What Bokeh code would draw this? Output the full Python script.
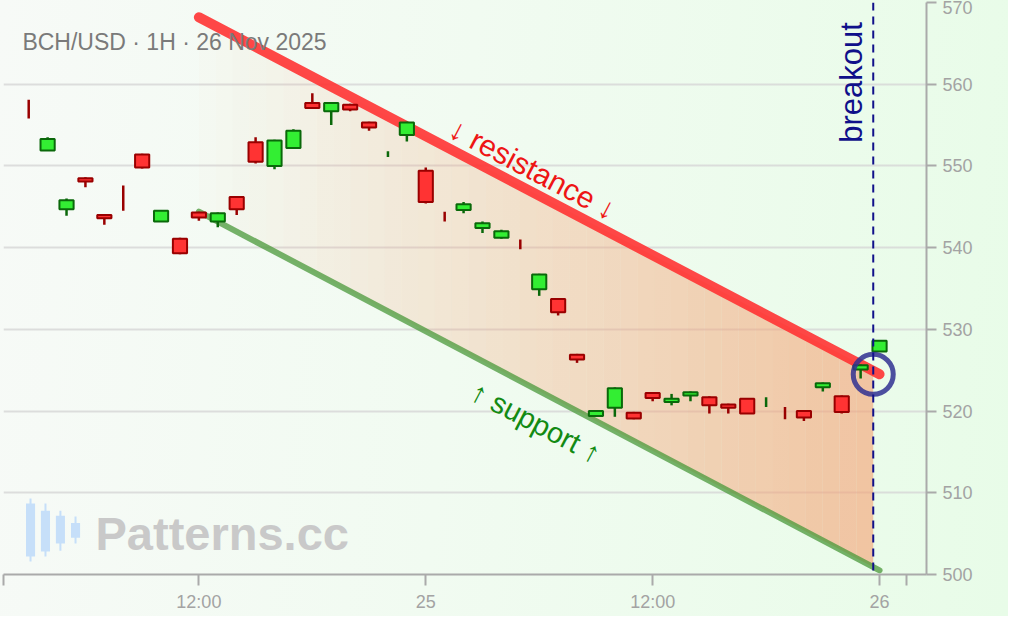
import numpy as np
import pandas as pd
from bokeh.plotting import figure
from bokeh.models import (ColumnDataSource, Range1d, FixedTicker,
                          CustomJSTickFormatter, Span)
from bokeh.core.properties import value
from bokeh.embed import file_html
from bokeh.resources import INLINE

# hourly candles BCH/USD, 24 Nov 03:00 -> 26 Nov 00:00
first_candle = "2025-11-24 03:00"
opens = [557.0, 551.9, 544.7, 548.5, 544.0, 546.1, 551.4, 543.2, 541.1, 544.3,
         543.2, 546.2, 552.9, 550.0, 552.2, 557.7, 556.7, 557.5, 555.3, 551.4,
         553.8, 549.4, 543.9, 544.6, 542.4, 541.2, 540.5, 534.9, 533.7, 526.9,
         519.4, 520.4, 519.8, 522.2, 521.1, 521.9, 521.7, 520.8, 521.5, 521.0,
         519.8, 520.0, 522.9, 521.8, 525.1, 527.3]
highs = [558.1, 553.5, 546.0, 548.6, 544.1, 547.6, 551.5, 544.6, 541.2, 544.4,
         544.3, 546.2, 553.5, 553.2, 554.5, 558.9, 557.8, 557.6, 555.4, 551.8,
         555.4, 549.8, 544.4, 545.6, 543.2, 542.2, 541.0, 536.8, 533.8, 527.0,
         520.1, 522.9, 519.9, 522.3, 522.1, 522.4, 521.8, 520.9, 521.6, 521.7,
         520.5, 520.1, 523.5, 521.9, 525.7, 528.7]
lows = [555.8, 551.9, 543.9, 547.4, 542.8, 544.5, 549.7, 543.2, 539.2, 543.3,
        542.5, 544.0, 550.3, 549.6, 552.2, 557.0, 555.0, 556.7, 554.3, 551.1,
        553.0, 545.4, 543.2, 544.2, 541.8, 541.1, 539.8, 534.1, 531.7, 525.9,
        519.3, 519.3, 519.0, 521.2, 520.7, 521.2, 519.7, 519.7, 519.7, 520.5,
        519.0, 518.8, 522.4, 519.7, 524.0, 527.3]
closes = [556.9, 553.3, 545.8, 548.1, 543.6, 546.0, 549.8, 544.5, 539.3, 543.7,
          544.2, 544.7, 550.5, 553.1, 554.3, 557.1, 557.7, 556.9, 554.7, 551.5,
          555.3, 545.6, 543.8, 545.3, 543.0, 542.0, 540.4, 536.7, 532.1, 526.3,
          520.0, 522.8, 519.1, 521.6, 521.5, 522.3, 520.7, 520.4, 519.7, 521.1,
          519.7, 519.2, 523.4, 519.9, 525.6, 528.6]

# descending channel
line_times = ["2025-11-24 12:00", "2025-11-26 00:00"]
resistance = [568.2, 524.5]
support = [544.4, 500.5]
breakout_time = "2025-11-25 23:40"
breakout_price = 524.5

y_ticks = [500, 510, 520, 530, 540, 550, 560, 570]
x_ticks = ["2025-11-24 12:00", "2025-11-25 00:00", "2025-11-25 12:00", "2025-11-26 00:00"]
x_start, x_end = "2025-11-24 01:40", "2025-11-26 02:29"
x_axis_end = "2025-11-26 01:25"

title = "BCH/USD · 1H · 26 Nov 2025"
FONT = "Liberation Sans"
HOUR = 3600 * 1000


def ms(t):
    return pd.Timestamp(t).value / 1e6


times = pd.date_range(first_candle, periods=len(opens), freq="h")
df = pd.DataFrame(dict(time=times, open=opens, high=highs, low=lows, close=closes))
up = df.close > df.open
df["top"] = df[["open", "close"]].max(axis=1)
df["bottom"] = df[["open", "close"]].min(axis=1)
df["edge"] = np.where(up, "#0a680a", "#990000")
df["fill"] = np.where(up, "#33ee33", "#ff3333")
src = ColumnDataSource(df)
bodies = ColumnDataSource(df[(df.close - df.open).abs() > 0.15])

p = figure(width=1008, height=616, x_axis_type="datetime",
           x_range=Range1d(pd.Timestamp(x_start), pd.Timestamp(x_end)),
           y_range=Range1d(500, 570), y_axis_location="right",
           output_backend="svg", toolbar_location=None,
           min_border_left=3, min_border_top=2, min_border_right=82,
           min_border_bottom=42, outline_line_color=None)
p.background_fill_alpha = 0
p.border_fill_alpha = 0
p.styles = {"background": "linear-gradient(95deg, #f7faf7 0%, #f1fbf1 45%, #e8fce8 100%)"}

# axes
for ax in (p.xaxis, p.yaxis):
    ax.axis_line_color = "#aaaaaa"
    ax.axis_line_width = 2
    ax.major_tick_line_color = "#aaaaaa"
    ax.major_tick_line_width = 2
    ax.major_tick_in = 0
    ax.minor_tick_line_color = None
    ax.major_label_text_color = "#a3a3a3"
    ax.major_label_text_font = FONT
    ax.major_label_text_font_size = "18px"
p.xaxis.major_tick_out = 11
p.xaxis.major_label_standoff = 6
p.yaxis.major_tick_out = 10
p.yaxis.major_label_standoff = 6
p.xaxis.ticker = FixedTicker(ticks=[ms(t) for t in x_ticks] + [ms(x_start), ms(x_axis_end)])
p.xaxis.formatter = CustomJSTickFormatter(code="""
const d = new Date(tick);
if (d.getUTCMinutes() !== 0) { return ""; }
const h = d.getUTCHours();
if (h === 0) { return String(d.getUTCDate()); }
return (h < 10 ? "0" : "") + h + ":00";
""")
p.yaxis.ticker = FixedTicker(ticks=y_ticks)
p.xgrid.visible = False
p.ygrid.ticker = FixedTicker(ticks=y_ticks)
p.ygrid.grid_line_color = "#d6d6d6"
p.ygrid.grid_line_width = 2
p.ygrid.grid_line_alpha = 0.8

# channel shading, fading in towards the breakout
n = 40
lt = [ms(t) for t in line_times]
edges = np.linspace(lt[0], ms(breakout_time), n + 1)
top = np.interp(edges, lt, resistance)
bot = np.interp(edges, lt, support)
xs = [[edges[i], edges[i + 1], edges[i + 1], edges[i]] for i in range(n)]
ys = [[top[i], top[i + 1], bot[i + 1], bot[i]] for i in range(n)]
p.patches(xs, ys, fill_color="#f5a072", fill_alpha=np.linspace(0.02, 0.6, n),
          line_color=None)

p.line(pd.to_datetime(line_times), support, line_color="#4a983a", line_alpha=0.75,
       line_width=6, line_cap="round")
p.line(pd.to_datetime(line_times), resistance, line_color="#ff3333", line_alpha=0.9,
       line_width=10, line_cap="round")

p.add_layout(Span(location=ms(breakout_time), dimension="height", line_color="#10108a",
                  line_width=2, line_dash="8 6"))

# candles
p.segment("time", "high", "time", "low", source=src, line_color="edge", line_width=2.5)
p.vbar(x="time", width=0.75 * HOUR, top="top", bottom="bottom", source=bodies,
       fill_color="fill", line_color="edge", line_width=2)

p.scatter([pd.Timestamp(breakout_time)], [breakout_price], marker="circle", size=40,
          fill_color=None, line_color="#303092", line_alpha=0.85, line_width=5)

# labels
p.text([pd.Timestamp("2025-11-25 05:40")], [549.6], text=["↓ resistance ↓"],
       angle=-27.7, angle_units="deg", text_align="center", text_baseline="middle",
       text_color="#ee1515", text_font=value(FONT), text_font_size="30px")
p.text([pd.Timestamp("2025-11-25 05:50")], [518.6], text=["↑ support ↑"],
       angle=-27.7, angle_units="deg", text_align="center", text_baseline="middle",
       text_color="#138a13", text_font=value(FONT), text_font_size="29px")
p.text([pd.Timestamp("2025-11-25 22:30")], [567.6], text=["breakout"], angle=90,
       angle_units="deg", text_align="right", text_baseline="alphabetic",
       text_color="#10108a", text_font=value(FONT), text_font_size="31px")
p.text([pd.Timestamp("2025-11-24 02:40")], [565.2], text=[title], text_align="left",
       text_baseline="middle", text_color="#7a7a7a", text_font=value(FONT),
       text_font_size="23px")

# watermark
logo_times = pd.Timestamp(x_start) + pd.to_timedelta([1.43, 2.22, 3.01, 3.81], unit="h")
logo_wick = ([509.3, 508.7, 507.8, 507.1], [501.6, 502.2, 502.9, 503.8])
logo_body = ([508.7, 507.8, 507.2, 506.3], [502.2, 502.8, 503.8, 504.5])
p.segment(logo_times, logo_wick[0], logo_times, logo_wick[1], line_color="#c6dff9",
          line_width=2)
p.vbar(x=logo_times, width=0.48 * HOUR, top=logo_body[0], bottom=logo_body[1],
       fill_color="#c6dff9", line_color=None)
p.text([pd.Timestamp("2025-11-24 06:32")], [505.0], text=["Patterns.cc"],
       text_align="left", text_baseline="middle", text_color="#c9c9c9",
       text_font=value(FONT), text_font_style="bold", text_font_size="47px")

open("out.html", "w").write(file_html(p, INLINE))
